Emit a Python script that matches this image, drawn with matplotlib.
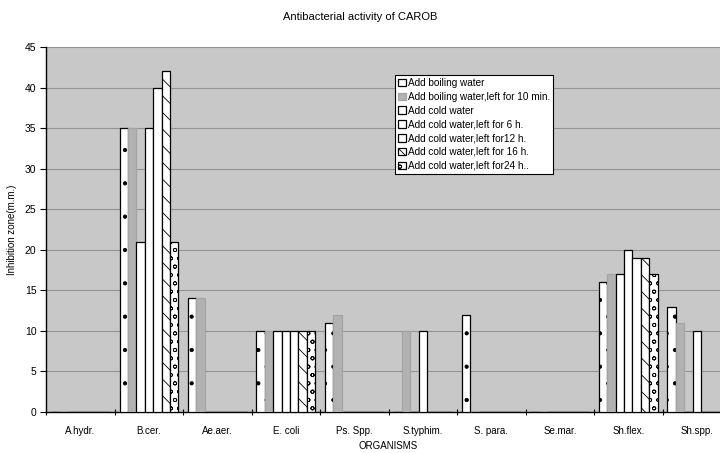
import matplotlib
matplotlib.use("Agg")
import matplotlib.pyplot as plt
import numpy as np

plt.rcParams['font.family'] = ['Liberation Sans', 'DejaVu Sans']
plt.rcParams['hatch.linewidth'] = 0.6

categories = ["A.hydr.", "B.cer.", "Ae.aer.", "E. coli", "Ps. Spp.", "S.typhim.",
              "S. para.", "Se.mar.", "Sh.flex.", "Sh.spp."]
series_names = ["Add boiling water",
                "Add boiling water,left for 10 min.",
                "Add cold water",
                "Add cold water,left for 6 h.",
                "Add cold water,left for12 h.",
                "Add cold water,left for 16 h.",
                "Add cold water,left for24 h.."]
s_boil       = [0, 35, 14, 10, 11, 0, 12, 0, 16, 13]
s_boil_10min = [0, 35, 14, 10, 12, 10, 0, 0, 17, 11]
s_cold       = [0, 21, 0, 10, 0, 0, 0, 0, 17, 0]
s_cold_6h    = [0, 35, 0, 10, 0, 10, 0, 0, 20, 10]
s_cold_12h   = [0, 40, 0, 10, 0, 0, 0, 0, 19, 0]
s_cold_16h   = [0, 42, 0, 10, 0, 0, 0, 0, 19, 0]
s_cold_24h   = [0, 21, 0, 10, 0, 0, 0, 0, 17, 0]
series = [s_boil, s_boil_10min, s_cold, s_cold_6h, s_cold_12h, s_cold_16h, s_cold_24h]
y_ticks = [0, 5, 10, 15, 20, 25, 30, 35, 40, 45]

styles = [
    dict(facecolor='white', edgecolor='black', hatch='.'),
    dict(facecolor='#b2b2b2', edgecolor='#a4a4a4', hatch=None),
    dict(facecolor='white', edgecolor='black', hatch=None),
    dict(facecolor='white', edgecolor='black', hatch=None),
    dict(facecolor='white', edgecolor='black', hatch=None),
    dict(facecolor='white', edgecolor='black', hatch='\\\\'),
    dict(facecolor='white', edgecolor='black', hatch='oo'),
]

fig = plt.figure(figsize=(7.2, 4.53), dpi=100)
fig.patch.set_facecolor('white')
ax = fig.add_axes([46.2/720, 41/453, (731-46.2)/720, 365/453])
ax.set_facecolor('#c8c8c8')

x = np.arange(len(categories))
w = 0.1226
for k, (vals, st) in enumerate(zip(series, styles)):
    ax.bar(x + (k - 3) * w, vals, width=w, label=series_names[k],
           linewidth=0.9, zorder=3, **st)

ax.set_xlim(-0.5, len(categories) - 0.5)
ax.set_ylim(0, 45)
ax.set_yticks(y_ticks)
ax.yaxis.grid(True, color='#939393', linewidth=0.8, zorder=0)
ax.set_axisbelow(True)

ax.set_xticks(np.arange(len(categories) + 1) - 0.5)
ax.set_xticklabels([])
ax.set_xticks(x, minor=True)
ax.set_xticklabels(categories, minor=True, fontsize=7)
ax.tick_params(axis='x', which='minor', length=0, pad=10)
ax.tick_params(axis='x', which='major', length=4, direction='inout', width=0.8)
ax.tick_params(axis='y', length=4, direction='out', width=0.8, labelsize=7.5, pad=3)

for s in ['top', 'right']:
    ax.spines[s].set_visible(False)
ax.spines['left'].set_linewidth(1.0)
ax.spines['bottom'].set_linewidth(1.0)

ax.set_ylabel("Inhibition zone(m.m.)", fontsize=7, labelpad=6)
ax.set_xlabel("ORGANISMS", fontsize=7, labelpad=4)
fig.text(360/720, 1 - 17/453, "Antibacterial activity of CAROB", ha='center',
         va='center', fontsize=8)

leg = ax.legend(loc='upper left', bbox_to_anchor=((395-46.2)/684.8, (412-75)/365),
                fontsize=7.2, frameon=True, fancybox=False, edgecolor='black',
                framealpha=1, handlelength=0.8, handleheight=0.8, handletextpad=0.2,
                borderpad=0.3, labelspacing=0.38, borderaxespad=0)
leg.get_frame().set_linewidth(0.8)

fig.savefig("out.png", dpi=100)
